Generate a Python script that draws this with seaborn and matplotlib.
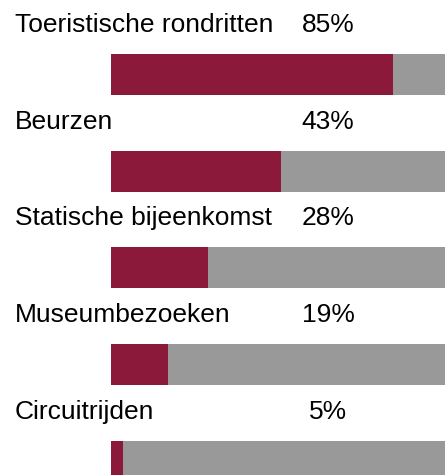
import matplotlib
matplotlib.use("Agg")
import seaborn as sns
import matplotlib.pyplot as plt
from matplotlib.transforms import blended_transform_factory

categories = ["Toeristische rondritten", "Beurzen", "Statische bijeenkomst",
              "Museumbezoeken", "Circuitrijden"]
pct_labels = ["85%", "43%", "28%", "19%", "5%"]
# bar lengths as drawn in the picture (share of the grey track)
bar_values = [84.5, 51, 29, 17, 3.6]
track = [100, 100, 100, 100, 100]

sns.set_style("white")
plt.rcParams["font.family"] = ["Liberation Sans", "DejaVu Sans"]

fig = plt.figure(figsize=(4.45, 4.75), dpi=100)
ax = fig.add_axes([111 / 445, 0, 1 - 111 / 445, 1])

sns.barplot(x=track, y=categories, orient="h", color="#999999",
            width=0.424, saturation=1, linewidth=0, ax=ax)
sns.barplot(x=bar_values, y=categories, orient="h", color="#8B1A3A",
            width=0.424, saturation=1, linewidth=0, ax=ax)

ax.set_xlim(0, 100)
ax.set_ylim(4.143, -0.770)
ax.axis("off")

# x in figure fraction, y in data units
trans = blended_transform_factory(fig.transFigure, ax.transData)
for i, (cat, lab) in enumerate(zip(categories, pct_labels)):
    y = i - 0.438
    ax.text(15 / 445, y, cat, fontsize=19, va="baseline", ha="left",
            color="#000000", transform=trans, clip_on=False)
    ax.text(328 / 445, y, lab, fontsize=19, va="baseline", ha="center",
            color="#000000", transform=trans, clip_on=False)

plt.savefig("out.png", dpi=100)
